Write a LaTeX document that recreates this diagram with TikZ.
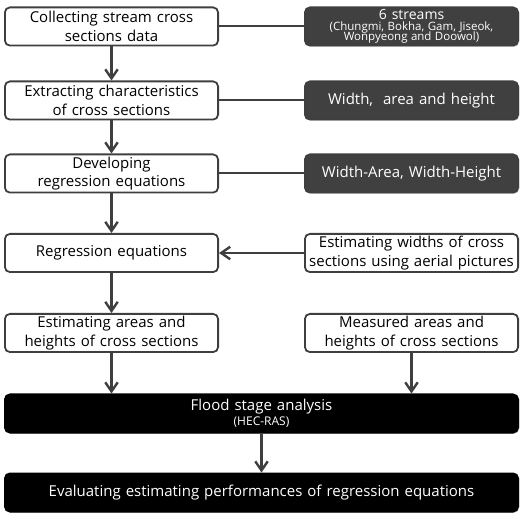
\documentclass[tikz,border=0pt]{standalone}
\usepackage{fontspec}
\setmainfont{Open Sans}[WordSpace=2.4]
\usetikzlibrary{arrows.meta,positioning,shadows}
\definecolor{edgegray}{HTML}{3F3F3F}
\definecolor{darkbox}{HTML}{404040}
\newcommand{\smallnote}[1]{{\fontsize{11.5}{10}\selectfont\spaceskip=0.3em #1}}
\tikzset{
  stepnode/.style={
    rectangle, rounded corners=5pt, draw=edgegray, line width=1.8pt,
    fill=white, minimum width=213.2pt, minimum height=38.2pt,
    text width=210pt, inner sep=0pt, align=center,
    font=\fontsize{15}{18.5}\selectfont
  },
  infonode/.style={
    stepnode, fill=darkbox, text=white,
    drop shadow={opacity=0.35, shadow xshift=1.2pt, shadow yshift=-1.2pt}
  },
  mainnode/.style={
    infonode, fill=black, draw=black,
    minimum width=513.2pt, text width=505pt
  },
  flowarrow/.style={-{Straight Barb[length=3.2mm,width=4.4mm]}, line width=2.4pt, color=edgegray},
  linkline/.style={line width=2pt, color=edgegray},
}
\begin{document}
\begin{tikzpicture}
  \useasboundingbox (0,0) rectangle (530pt,-518pt);
  % left column
  \node[stepnode] (collect) at (111.5pt,-26.5pt) {Collecting stream cross\\sections data};
  \node[stepnode, below=34pt of collect] (extract) {Extracting characteristics\\of cross sections};
  \node[stepnode, below=33pt of extract] (develop) {Developing\\regression equations};
  \node[stepnode, below=39.5pt of develop] (regress) {Regression equations};
  \node[stepnode, below=40pt of regress] (estimate) {Estimating areas and\\heights of cross sections};
  % right column
  \node[infonode, right=85pt of collect] (streams) {{\fontsize{14}{15}\selectfont 6 streams}\\[-7.5pt]\smallnote{(Chungmi, Bokha, Gam, Jiseok,}\\[-8.5pt]\smallnote{Wonpyeong and Doowol)}};
  \node[infonode, right=85pt of extract] (props) {Width,~ area and height};
  \node[infonode, right=85pt of develop] (pairs) {Width-Area, Width-Height};
  \node[stepnode, right=85pt of regress] (aerial) {Estimating widths of cross\\sections using aerial pictures};
  \node[stepnode, right=85pt of estimate] (measured) {Measured areas and\\heights of cross sections};
  % bottom
  \node[mainnode, below=40.5pt of estimate.south west, anchor=north west] (flood) {Flood stage analysis\\[-3pt]{\fontsize{12}{12}\selectfont\spaceskip=0.26em (HEC-RAS)}};
  \node[mainnode, below=39pt of flood] (evaluate) {Evaluating estimating performances of regression equations};
  % connectors
  \foreach \a/\b in {collect/extract,extract/develop,develop/regress,regress/estimate,flood/evaluate}
    \draw[flowarrow] (\a) -- (\b);
  \foreach \a/\b in {collect/streams,extract/props,develop/pairs}
    \draw[linkline] (\a) -- (\b);
  \draw[flowarrow] (aerial) -- (regress);
  \draw[flowarrow] (estimate) -- (estimate |- flood.north);
  \draw[flowarrow] (measured) -- (measured |- flood.north);
\end{tikzpicture}
\end{document}
